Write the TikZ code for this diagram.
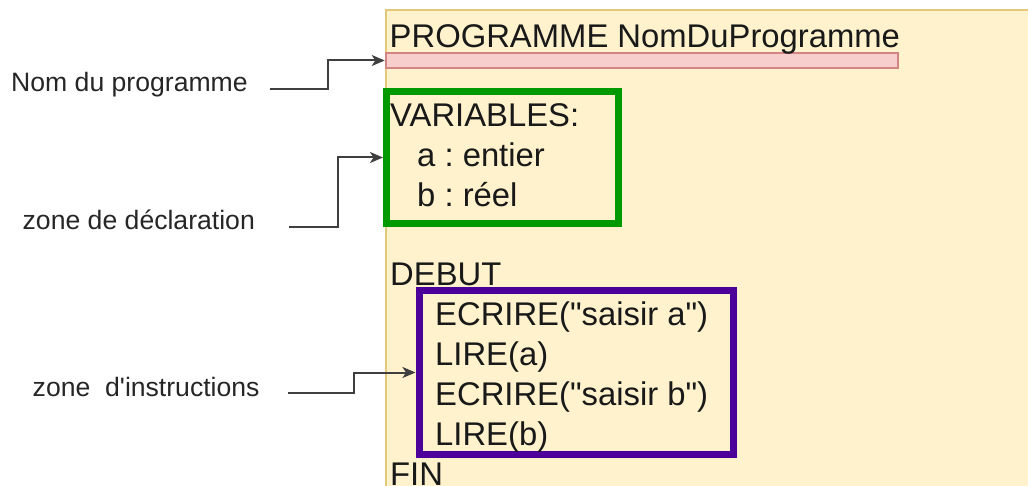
\documentclass[tikz,border=0pt]{standalone}
\usepackage{fontspec}
\newfontfamily\fnt{Liberation Sans}
\usetikzlibrary{arrows.meta}
\definecolor{panelfill}{HTML}{FFF2CC}
\definecolor{panelline}{HTML}{D6B656}
\definecolor{pinkfill}{HTML}{F8CECC}
\definecolor{pinkline}{HTML}{B85450}
\definecolor{zgreen}{HTML}{009900}
\definecolor{zpurple}{HTML}{4C0099}
\definecolor{arrgray}{HTML}{3F3F3F}
\tikzset{
  code/.style={anchor=base west, inner sep=0pt, font=\fnt\frenchspacing\fontsize{32.8}{40}\selectfont, text=black!90},
  lab/.style={anchor=base west, inner sep=0pt, text height=0.76em, text depth=0.2em, font=\fnt\frenchspacing\fontsize{26.6}{32}\selectfont, text=black!85},
  arr/.style={draw=arrgray, line width=2pt, -{Stealth[length=13pt,width=11pt,inset=3.5pt]}}
}
\begin{document}
\begin{tikzpicture}[x=1pt,y=-1pt]
\useasboundingbox (0,0) rectangle (1028,486);
\clip (0,0) rectangle (1028,486);
\node[draw=panelline!70!panelfill, fill=panelfill, line width=1.5pt, anchor=north west, minimum width=680pt, minimum height=500pt, inner sep=0pt] (panel) at (385,9.5) {};
\node[draw=pinkline!60!pinkfill, fill=pinkfill, line width=2pt, minimum width=512.5pt, minimum height=15.5pt, inner sep=0pt] (pink) at (642,60.5) {};
\node[draw=zgreen, line width=7pt, minimum width=232pt, minimum height=132pt, inner sep=0pt] (green) at (502.5,157.5) {};
\node[draw=zpurple, line width=7pt, minimum width=314.5pt, minimum height=163pt, inner sep=0pt] (purple) at (576.25,372.5) {};
% code text
\node[code] (prog) at (389.5,48) {PROGRAMME NomDuProgramme};
\node[code] (vars) at (390,127) {VARIABLES:};
\node[code] (va) at (417,167) {a : entier};
\node[code] (vb) at (417,207) {b : réel};
\node[code] (debut) at (390,286) {DEBUT};
\node[code] (i1) at (435,325) {ECRIRE("saisir a")};
\node[code] (i2) at (435,365) {LIRE(a)};
\node[code] (i3) at (435,405) {ECRIRE("saisir b")};
\node[code] (i4) at (435,445) {LIRE(b)};
\node[code] (fin) at (390,485) {FIN};
% labels
\node[lab] (nom) at (11,92) {Nom du programme};
\node[lab] (decl) at (22.5,230) {zone de déclaration};
\node[lab] (instr) at (32.5,396) {zone~ d'instructions};
% connectors
\draw[arr] ([xshift=22pt]nom.east) -- ++(58,0) |- (pink.west);
\draw[arr] ([xshift=34pt]decl.east) -- ++(49,0) |- (green.west);
\draw[arr] ([xshift=28pt]instr.east) -- ++(66,0) |- (purple.west);
\end{tikzpicture}
\end{document}
